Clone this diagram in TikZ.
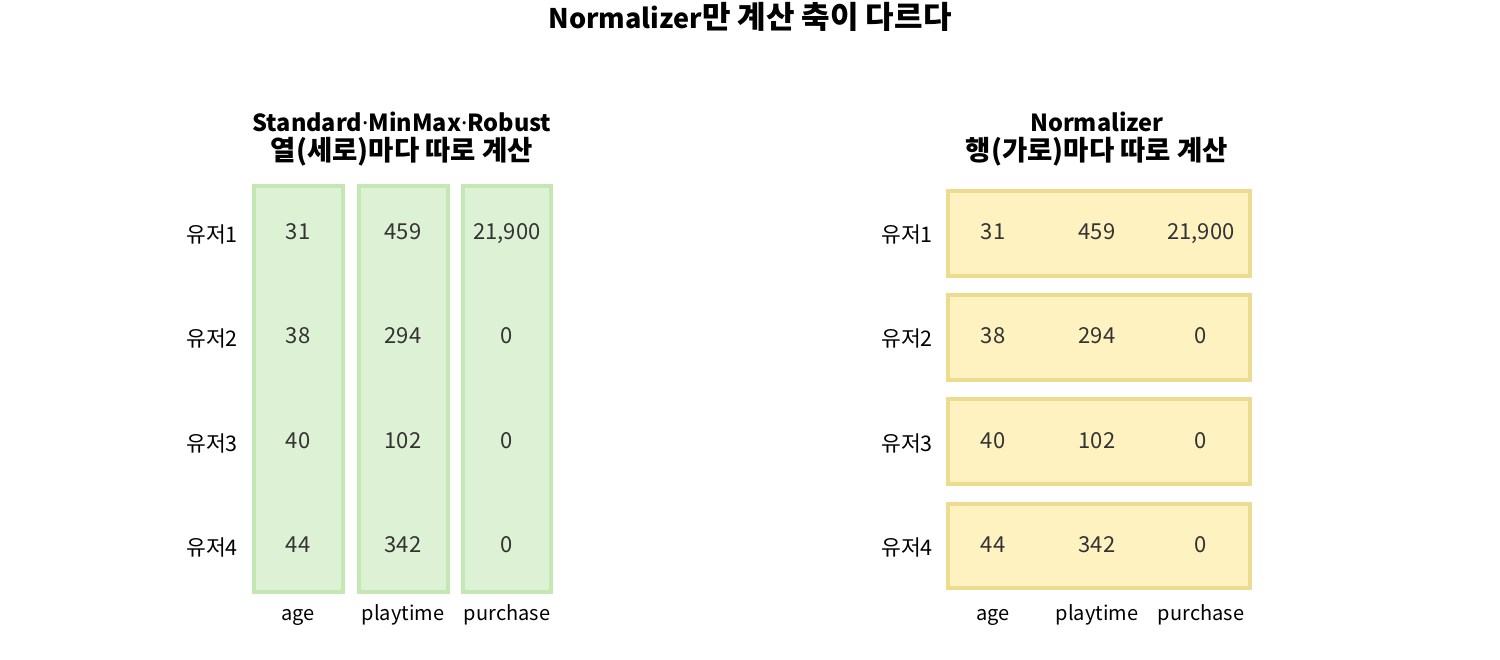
\documentclass[tikz,border=0pt]{standalone}
\usepackage{fontspec}
\setmainfont{Noto Sans CJK KR}
\newfontfamily\latinf{Noto Sans}
\newcommand{\mdot}{{\latinf\bfseries ·}}
\newcommand{\han}[2]{{\fontsize{#1}{#1}\selectfont #2}}
\definecolor{gfill}{HTML}{DDF1D4}
\definecolor{gline}{HTML}{C4E7B4}
\definecolor{yfill}{HTML}{FFF2C1}
\definecolor{yline}{HTML}{EDDC8F}
\definecolor{numc}{HTML}{333333}
\begin{document}
\begin{tikzpicture}[x=1pt,y=-1pt,
  gbox/.style={fill=gfill,draw=gline,line width=4pt},
  ybox/.style={fill=yfill,draw=yline,line width=4pt},
  num/.style={text=numc,font=\fontsize{22}{24}\selectfont,inner sep=0pt,anchor=base},
  lab/.style={text=black,font=\fontsize{20}{24}\selectfont,inner sep=0pt,anchor=base},
  rlab/.style={text=black,font=\fontsize{21.5}{24}\selectfont,inner sep=0pt,anchor=base east},
  ttl/.style={font=\fontsize{27}{32}\selectfont\bfseries,inner sep=0pt,anchor=base},
  sub/.style={font=\fontsize{23.5}{30}\selectfont\bfseries,inner sep=0pt,anchor=base}]
\useasboundingbox (0,0) rectangle (1500,660);
\node[ttl] (title) at (750,29) {Normalizer\han{31}{만 계산 축이 다르다}};
% left panel
\node[sub] (lsub1) at (402,132) {Standard\mdot MinMax\mdot Robust};
\node[sub] (lsub2) at (402,161) {\han{27.5}{열(세로)마다 따로 계산}};
\draw[gbox] (254,186) rectangle (343,592);
\draw[gbox] (359,186) rectangle (448,592);
\draw[gbox] (463,186) rectangle (551,592);
\node[num] (l11) at (298,240) {31};
\node[num] (l12) at (403,240) {459};
\node[num] (l13) at (507,240) {21,900};
\node[num] (l21) at (298,344) {38};
\node[num] (l22) at (403,344) {294};
\node[num] (l23) at (507,344) {0};
\node[num] (l31) at (298,448) {40};
\node[num] (l32) at (403,448) {102};
\node[num] (l33) at (507,448) {0};
\node[num] (l41) at (298,552) {44};
\node[num] (l42) at (403,552) {342};
\node[num] (l43) at (507,552) {0};
\node[rlab] (lr1) at (238,243) {유저1};
\node[rlab] (lr2) at (238,347) {유저2};
\node[rlab] (lr3) at (238,451) {유저3};
\node[rlab] (lr4) at (238,555) {유저4};
\node[lab] (lc1) at (298,620) {age};
\node[lab] (lc2) at (403,620) {playtime};
\node[lab] (lc3) at (507,620) {purchase};
% right panel
\node[sub] (rsub1) at (1097,132) {Normalizer};
\node[sub] (rsub2) at (1097,161) {\han{27.5}{행(가로)마다 따로 계산}};
\draw[ybox] (948,191) rectangle (1250,276);
\draw[ybox] (948,295) rectangle (1250,380);
\draw[ybox] (948,399) rectangle (1250,484);
\draw[ybox] (948,504) rectangle (1250,588);
\node[num] (r11) at (993,240) {31};
\node[num] (r12) at (1097,240) {459};
\node[num] (r13) at (1201,240) {21,900};
\node[num] (r21) at (993,344) {38};
\node[num] (r22) at (1097,344) {294};
\node[num] (r23) at (1201,344) {0};
\node[num] (r31) at (993,448) {40};
\node[num] (r32) at (1097,448) {102};
\node[num] (r33) at (1201,448) {0};
\node[num] (r41) at (993,552) {44};
\node[num] (r42) at (1097,552) {342};
\node[num] (r43) at (1201,552) {0};
\node[rlab] (rr1) at (933,243) {유저1};
\node[rlab] (rr2) at (933,347) {유저2};
\node[rlab] (rr3) at (933,451) {유저3};
\node[rlab] (rr4) at (933,555) {유저4};
\node[lab] (rc1) at (993,620) {age};
\node[lab] (rc2) at (1097,620) {playtime};
\node[lab] (rc3) at (1201,620) {purchase};
\end{tikzpicture}
\end{document}
